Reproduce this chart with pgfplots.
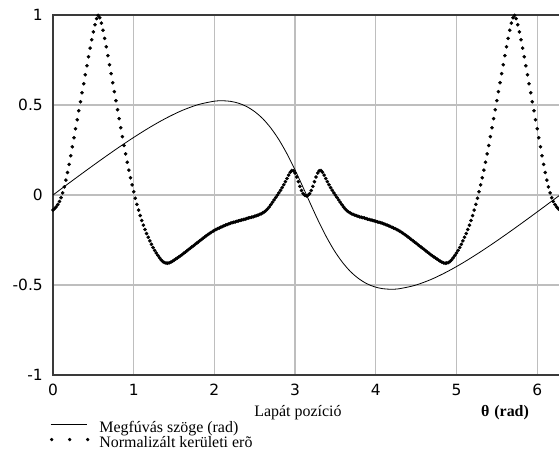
\documentclass[border=0pt]{standalone}
\usepackage{fontspec}
\setmainfont{Liberation Serif}
\newfontfamily\tickfont{DejaVu Sans}
\usepackage{pgfplots}
\pgfplotsset{compat=1.18}
\definecolor{GridGray}{HTML}{BEBEBE}
\definecolor{FrameGray}{HTML}{3A3A3A}

\begin{document}
\begin{tikzpicture}
\path[use as bounding box] (-53bp,-93bp) rectangle (506bp,375bp);
\begin{axis}[
    scale only axis,
    width=507bp,
    height=360bp,
    at={(0,0)},
    anchor=south west,
    xmin=0, xmax=6.283,
    ymin=-1, ymax=1,
    xtick={0,1,2,3,4,5,6},
    xticklabels={0,1,2,3,4,5,6},
    ytick={-1,-0.5,0,0.5,1},
    yticklabels={-1,-0.5,0,0.5,1},
    major tick length=0pt,
    grid=major,
    grid style={GridGray, line width=1.2bp},
    axis line style={FrameGray, line width=1.4bp},
    ticklabel style={font=\tickfont\fontsize{15.5}{15.5}\selectfont, text=black},
    yticklabel style={inner sep=0pt, xshift=-10bp},
    xticklabel style={inner sep=0pt, yshift=-9bp},
    clip=false,
    xlabel={Lapát pozíció},
    xlabel style={at={(axis description cs:0.483,-0.1056)}, anchor=center,
        font=\fontsize{16}{16}\selectfont},
    legend cell align=left,
    legend style={
        draw=none, fill=none,
        at={(axis description cs:-0.006,-0.128)},
        anchor=north west,
        inner sep=0pt, outer sep=0pt,
        row sep=0pt,
        font=\fontsize{16}{16}\selectfont,
        nodes={inner sep=0pt, text height=11bp, text depth=4bp},
        /tikz/every odd column/.append style={column sep=10bp}
    }
]

% blade angle (solid)
\addplot[black, line width=0.8bp, smooth,
    legend image code/.code={\draw[black, line width=0.8bp] (0bp,4bp) -- (36bp,4bp);}]
coordinates {
    (0,0) (0.2,0.0666) (0.4,0.1325) (0.6,0.1972) (0.8,0.2600) (1.0,0.3199)
    (1.2,0.3760) (1.4,0.4265) (1.6,0.4696) (1.8,0.5022) (2.0,0.5213)
    (2.1,0.5236) (2.2,0.5202) (2.3,0.5099) (2.4,0.4913) (2.5,0.4629)
    (2.6,0.4238) (2.7,0.3718) (2.8,0.3069) (2.9,0.2284) (3.0,0.1388)
    (3.1,0.0415) (3.183,-0.0415) (3.283,-0.1388) (3.383,-0.2284)
    (3.483,-0.3069) (3.583,-0.3718) (3.683,-0.4238) (3.783,-0.4629)
    (3.883,-0.4913) (3.983,-0.5099) (4.083,-0.5202) (4.183,-0.5236)
    (4.283,-0.5213) (4.483,-0.5022) (4.683,-0.4696) (4.883,-0.4265)
    (5.083,-0.3760) (5.283,-0.3199) (5.483,-0.2600) (5.683,-0.1972)
    (5.883,-0.1325) (6.083,-0.0666) (6.283,0)
};
\addlegendentry{Megfúvás szöge (rad)}

% normalized tangential force (dots)
\addplot[only marks, mark=*, mark size=1.6bp, black,
    legend image code/.code={
        \fill[black] (1bp,4bp) circle (1.5bp);
        \fill[black] (19bp,4bp) circle (1.5bp);
        \fill[black] (37bp,4bp) circle (1.5bp);}]
table {
x y
0.00 -0.083
0.02 -0.076
0.04 -0.066
0.06 -0.053
0.08 -0.036
0.10 -0.015
0.12 0.012
0.14 0.045
0.16 0.083
0.18 0.125
0.20 0.170
0.22 0.218
0.24 0.268
0.26 0.318
0.28 0.368
0.30 0.418
0.32 0.468
0.34 0.518
0.36 0.568
0.38 0.618
0.40 0.668
0.42 0.718
0.44 0.768
0.46 0.816
0.48 0.862
0.50 0.906
0.52 0.946
0.54 0.980
0.56 0.998
0.58 0.985
0.60 0.955
0.62 0.915
0.64 0.870
0.66 0.823
0.68 0.774
0.70 0.724
0.72 0.674
0.74 0.624
0.76 0.574
0.78 0.524
0.80 0.474
0.82 0.424
0.84 0.374
0.86 0.324
0.88 0.275
0.90 0.228
0.92 0.182
0.94 0.138
0.96 0.096
0.98 0.056
1.00 0.018
1.02 -0.018
1.04 -0.052
1.06 -0.084
1.08 -0.114
1.10 -0.142
1.12 -0.168
1.14 -0.192
1.16 -0.214
1.18 -0.235
1.20 -0.255
1.22 -0.274
1.24 -0.292
1.26 -0.308
1.28 -0.322
1.30 -0.335
1.32 -0.349
1.34 -0.360
1.36 -0.369
1.38 -0.375
1.40 -0.378
1.42 -0.379
1.44 -0.377
1.46 -0.373
1.48 -0.368
1.50 -0.362
1.52 -0.356
1.54 -0.350
1.56 -0.344
1.58 -0.338
1.60 -0.331
1.62 -0.324
1.64 -0.317
1.66 -0.310
1.68 -0.303
1.70 -0.296
1.72 -0.289
1.74 -0.282
1.76 -0.275
1.78 -0.268
1.80 -0.261
1.82 -0.254
1.84 -0.247
1.86 -0.240
1.88 -0.233
1.90 -0.226
1.92 -0.220
1.94 -0.214
1.96 -0.208
1.98 -0.202
2.00 -0.197
2.02 -0.192
2.04 -0.187
2.06 -0.183
2.08 -0.179
2.10 -0.175
2.12 -0.171
2.14 -0.167
2.16 -0.164
2.18 -0.160
2.20 -0.157
2.22 -0.154
2.24 -0.151
2.26 -0.149
2.28 -0.146
2.30 -0.144
2.32 -0.141
2.34 -0.139
2.36 -0.136
2.38 -0.134
2.40 -0.131
2.42 -0.128
2.44 -0.126
2.46 -0.123
2.48 -0.121
2.50 -0.118
2.52 -0.115
2.54 -0.112
2.56 -0.108
2.58 -0.104
2.60 -0.099
2.62 -0.093
2.64 -0.086
2.66 -0.077
2.68 -0.066
2.70 -0.053
2.72 -0.040
2.74 -0.027
2.76 -0.014
2.78 -0.001
2.80 0.012
2.82 0.026
2.84 0.041
2.86 0.057
2.88 0.074
2.90 0.092
2.92 0.110
2.94 0.126
2.96 0.136
2.98 0.135
3.00 0.122
3.02 0.100
3.04 0.074
3.06 0.048
3.08 0.025
3.10 0.008
3.12 -0.002
3.14 -0.005
3.16 -0.002
3.18 0.008
3.20 0.025
3.22 0.048
3.24 0.074
3.26 0.100
3.28 0.122
3.30 0.135
3.32 0.136
3.34 0.126
3.36 0.110
3.38 0.092
3.40 0.074
3.42 0.057
3.44 0.041
3.46 0.026
3.48 0.012
3.50 -0.001
3.52 -0.014
3.54 -0.027
3.56 -0.040
3.58 -0.053
3.60 -0.066
3.62 -0.077
3.64 -0.086
3.66 -0.093
3.68 -0.099
3.70 -0.104
3.72 -0.108
3.74 -0.112
3.76 -0.115
3.78 -0.118
3.80 -0.121
3.82 -0.123
3.84 -0.126
3.86 -0.128
3.88 -0.131
3.90 -0.134
3.92 -0.136
3.94 -0.139
3.96 -0.141
3.98 -0.144
4.00 -0.146
4.02 -0.149
4.04 -0.151
4.06 -0.154
4.08 -0.157
4.10 -0.160
4.12 -0.164
4.14 -0.167
4.16 -0.171
4.18 -0.175
4.20 -0.179
4.22 -0.183
4.24 -0.187
4.26 -0.192
4.28 -0.197
4.30 -0.202
4.32 -0.208
4.34 -0.214
4.36 -0.220
4.38 -0.226
4.40 -0.233
4.42 -0.240
4.44 -0.247
4.46 -0.254
4.48 -0.261
4.50 -0.268
4.52 -0.275
4.54 -0.282
4.56 -0.289
4.58 -0.296
4.60 -0.303
4.62 -0.310
4.64 -0.317
4.66 -0.324
4.68 -0.331
4.70 -0.338
4.72 -0.344
4.74 -0.350
4.76 -0.356
4.78 -0.362
4.80 -0.368
4.82 -0.373
4.84 -0.377
4.86 -0.379
4.88 -0.378
4.90 -0.375
4.92 -0.369
4.94 -0.360
4.96 -0.349
4.98 -0.335
5.00 -0.322
5.02 -0.308
5.04 -0.292
5.06 -0.274
5.08 -0.255
5.10 -0.235
5.12 -0.214
5.14 -0.192
5.16 -0.168
5.18 -0.142
5.20 -0.114
5.22 -0.084
5.24 -0.052
5.26 -0.018
5.28 0.018
5.30 0.056
5.32 0.096
5.34 0.138
5.36 0.182
5.38 0.228
5.40 0.275
5.42 0.324
5.44 0.374
5.46 0.424
5.48 0.474
5.50 0.524
5.52 0.574
5.54 0.624
5.56 0.674
5.58 0.724
5.60 0.774
5.62 0.823
5.64 0.870
5.66 0.915
5.68 0.955
5.70 0.985
5.72 0.998
5.74 0.980
5.76 0.946
5.78 0.906
5.80 0.862
5.82 0.816
5.84 0.768
5.86 0.718
5.88 0.668
5.90 0.618
5.92 0.568
5.94 0.518
5.96 0.468
5.98 0.418
6.00 0.368
6.02 0.318
6.04 0.268
6.06 0.218
6.08 0.170
6.10 0.125
6.12 0.083
6.14 0.045
6.16 0.012
6.18 -0.015
6.20 -0.036
6.22 -0.053
6.24 -0.066
6.26 -0.076
6.28 -0.083
};
\addlegendentry{Normalizált kerületi erõ}

\node[font=\bfseries\fontsize{16}{16}\selectfont, anchor=center]
    at (axis description cs:0.8915,-0.1056) {θ\hspace{5bp}(rad)};

\end{axis}
\end{tikzpicture}
\end{document}
